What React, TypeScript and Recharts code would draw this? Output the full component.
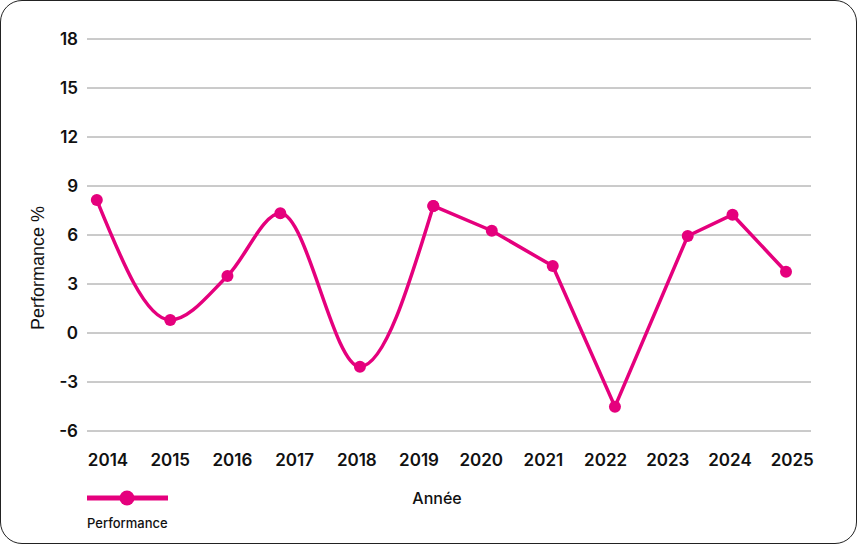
import { LineChart, Line, XAxis, YAxis, CartesianGrid } from "recharts";

const dates = [2013.82, 2015.0, 2015.92, 2016.77, 2018.05, 2019.23, 2020.17, 2021.15, 2022.15, 2023.32, 2024.04, 2024.9];
const performance = [8.14, 0.8, 3.49, 7.33, -2.06, 7.78, 6.26, 4.1, -4.51, 5.94, 7.24, 3.75];
const yearTicks = [2014, 2015, 2016, 2017, 2018, 2019, 2020, 2021, 2022, 2023, 2024, 2025];
const yTicks = [-6, -3, 0, 3, 6, 9, 12, 15, 18];

const PINK = "#e5007d";
const FONT = "Inter, 'Liberation Sans', sans-serif";

const points = dates.map((d, i) => ({ date: d, value: performance[i] }));
// the reference draws the first half rounded and the second half with sharp joins
const curvedPart = points.slice(0, 6);
const straightPart = points.slice(5);

const tickStyle = { fill: "#111", fontSize: 17, fontWeight: 600, fontFamily: FONT };

const App = () => {
  return (
    <div
      style={{
        position: "absolute",
        left: 0,
        top: 0,
        width: 857,
        height: 544,
        boxSizing: "border-box",
        border: "1.5px solid #222",
        borderRadius: 22,
        background: "#fff",
        fontFamily: FONT,
        overflow: "hidden",
      }}
    >
      <div style={{ position: "absolute", left: -1, top: -1 }}>
        <LineChart width={857} height={544} margin={{ top: 39, right: 46, bottom: 0, left: 0 }}>
          <CartesianGrid vertical={false} stroke="#969696" strokeWidth={1} />
          <XAxis
            dataKey="date"
            type="number"
            domain={[2013.662, 2025.302]}
            ticks={yearTicks}
            interval={0}
            allowDataOverflow
            axisLine={false}
            tickLine={false}
            tickSize={0}
            tickMargin={23}
            height={113}
            tick={tickStyle}
          />
          <YAxis
            type="number"
            domain={[-6, 18]}
            ticks={yTicks}
            interval={0}
            axisLine={false}
            tickLine={false}
            tickSize={0}
            tickMargin={9}
            width={87}
            tick={tickStyle}
          />
          <Line
            data={curvedPart}
            dataKey="value"
            type="monotone"
            stroke={PINK}
            strokeWidth={3.5}
            dot={{ r: 6, fill: PINK, stroke: PINK, strokeWidth: 0 }}
            activeDot={false}
            isAnimationActive={false}
          />
          <Line
            data={straightPart}
            dataKey="value"
            type="linear"
            stroke={PINK}
            strokeWidth={3.5}
            dot={{ r: 6, fill: PINK, stroke: PINK, strokeWidth: 0 }}
            activeDot={false}
            legendType="none"
            isAnimationActive={false}
          />
        </LineChart>
      </div>
      <div
        style={{
          position: "absolute",
          left: 37,
          top: 267,
          transform: "translate(-50%, -50%) rotate(-90deg)",
          whiteSpace: "nowrap",
          fontSize: 18,
          fontFamily: "'Liberation Sans', Arial, sans-serif",
          color: "#111",
        }}
      >
        Performance %
      </div>
      <div
        style={{
          position: "absolute",
          left: 436,
          top: 497,
          transform: "translate(-50%, -50%)",
          fontSize: 16,
          fontWeight: 500,
          color: "#111",
        }}
      >
        Année
      </div>
      <div style={{ position: "absolute", left: 85, top: 488 }}>
        <svg width={84} height={18}>
          <line x1={1} y1={9} x2={82} y2={9} stroke={PINK} strokeWidth={5} />
          <circle cx={41} cy={9} r={7.5} fill={PINK} />
        </svg>
      </div>
      <div
        style={{
          position: "absolute",
          left: 86,
          top: 514,
          fontSize: 13,
          fontWeight: 500,
          color: "#111",
        }}
      >
        Performance
      </div>
    </div>
  );
};

export default App;
